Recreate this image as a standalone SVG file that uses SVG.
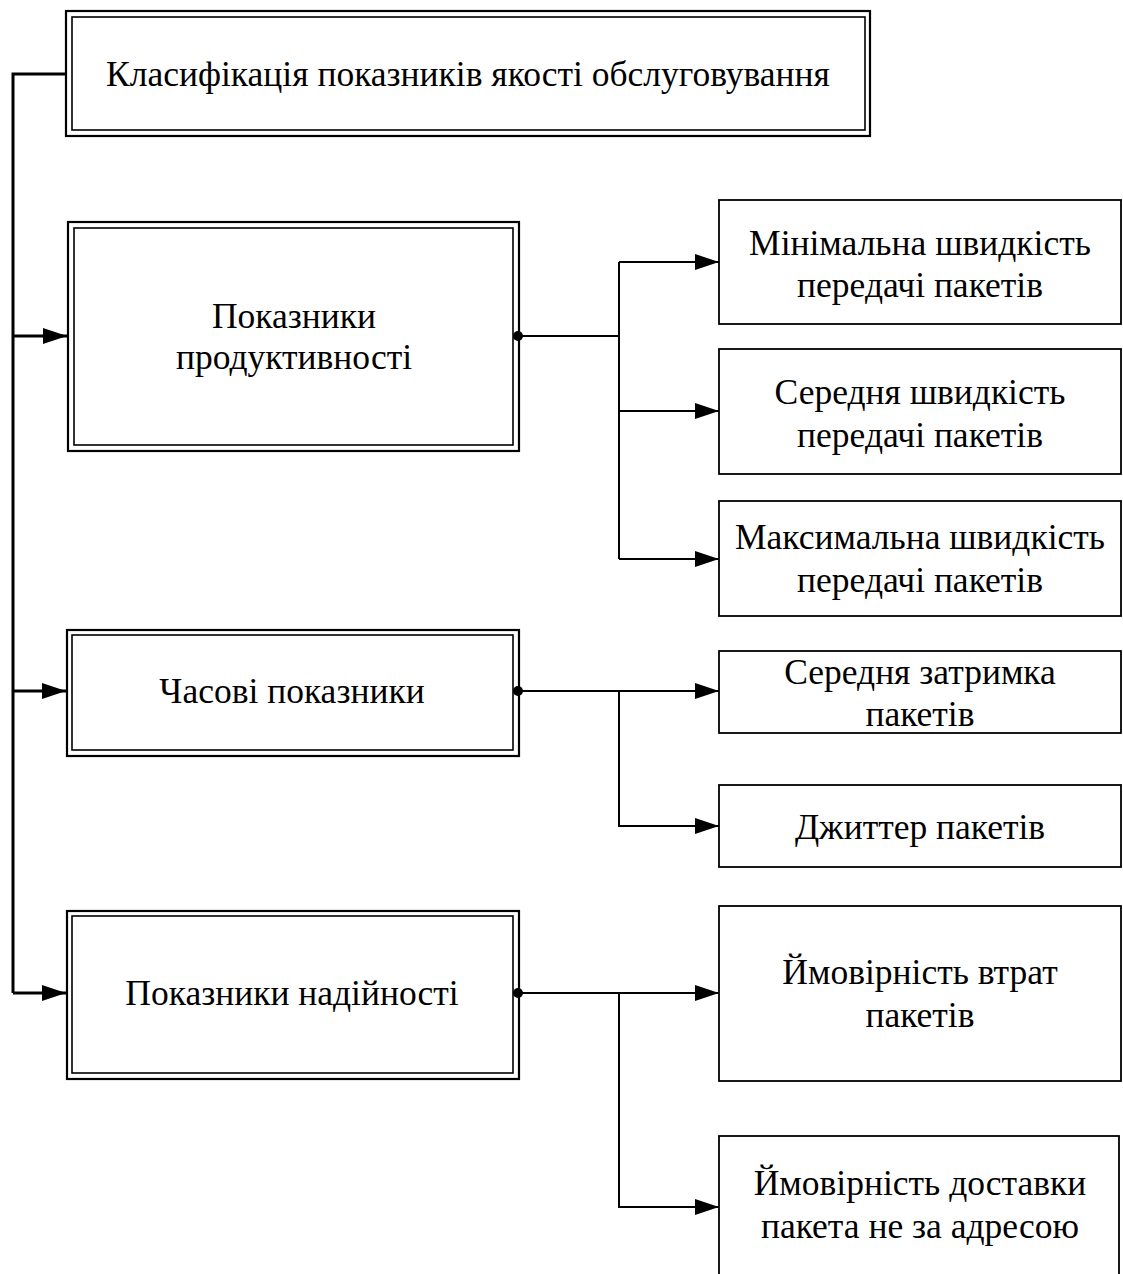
<svg xmlns="http://www.w3.org/2000/svg" width="1123" height="1274" viewBox="0 0 1123 1274">
  <defs>
    <style>
      .outer { fill: none; stroke: #000; stroke-width: 2.2; }
      .inner { fill: none; stroke: #000; stroke-width: 1.6; }
      .box { fill: #fff; stroke: #000; stroke-width: 1.8; }
      .spine { fill: none; stroke: #000; stroke-width: 3; }
      .wire { fill: none; stroke: #000; stroke-width: 2; }
      text { font-family: "Liberation Serif", "Times New Roman", serif; font-size: 35.5px; fill: #000; text-anchor: middle; }
    </style>
    <marker id="arrow" viewBox="0 0 24 16" refX="24" refY="8" markerWidth="24" markerHeight="16" markerUnits="userSpaceOnUse" orient="auto">
      <path d="M0,0 L24,8 L0,16 Z" fill="#000"/>
    </marker>
  </defs>

  <rect width="1123" height="1274" fill="#fff"/>

  <!-- connectors -->
  <g id="connectors">
    <!-- main spine from the title box down to each group -->
    <path class="spine" d="M66,74 H13 V993"/>
    <path class="spine" d="M13,336 H67" marker-end="url(#arrow)"/>
    <path class="spine" d="M13,691 H66" marker-end="url(#arrow)"/>
    <path class="spine" d="M13,993 H66" marker-end="url(#arrow)"/>

    <!-- performance branch -->
    <circle cx="518" cy="336" r="5" fill="#000"/>
    <path class="wire" d="M518,336 H619"/>
    <path class="wire" d="M619,262 V559"/>
    <path class="wire" d="M619,262 H719" marker-end="url(#arrow)"/>
    <path class="wire" d="M619,411 H719" marker-end="url(#arrow)"/>
    <path class="wire" d="M619,559 H719" marker-end="url(#arrow)"/>

    <!-- timing branch -->
    <circle cx="518" cy="691" r="5" fill="#000"/>
    <path class="wire" d="M518,691 H719" marker-end="url(#arrow)"/>
    <path class="wire" d="M619,691 V826 H719" marker-end="url(#arrow)"/>

    <!-- reliability branch -->
    <circle cx="518" cy="993" r="5" fill="#000"/>
    <path class="wire" d="M518,993 H719" marker-end="url(#arrow)"/>
    <path class="wire" d="M619,993 V1207 H719" marker-end="url(#arrow)"/>
  </g>

  <!-- title -->
  <g id="title">
    <rect class="outer" x="66" y="11" width="804" height="125" fill="#fff"/>
    <rect class="inner" x="72" y="17" width="793" height="113"/>
    <text x="468" y="86">Класифікація показників якості обслуговування</text>
  </g>

  <!-- group nodes -->
  <g id="performance">
    <rect class="outer" x="68" y="222" width="451" height="229"/>
    <rect class="inner" x="74" y="228" width="439" height="217"/>
    <text x="294" y="328">Показники</text>
    <text x="294" y="369">продуктивності</text>
  </g>

  <g id="timing">
    <rect class="outer" x="67" y="630" width="452" height="126"/>
    <rect class="inner" x="72" y="635" width="441" height="115"/>
    <text x="292" y="703">Часові показники</text>
  </g>

  <g id="reliability">
    <rect class="outer" x="67" y="911" width="452" height="168"/>
    <rect class="inner" x="72" y="916" width="441" height="157"/>
    <text x="292" y="1005">Показники надійності</text>
  </g>

  <!-- leaf nodes -->
  <g id="min-rate">
    <rect class="box" x="719" y="200" width="402" height="124"/>
    <text x="920" y="255">Мінімальна швидкість</text>
    <text x="920" y="297">передачі пакетів</text>
  </g>

  <g id="avg-rate">
    <rect class="box" x="719" y="349" width="402" height="125"/>
    <text x="920" y="404">Середня швидкість</text>
    <text x="920" y="447">передачі пакетів</text>
  </g>

  <g id="max-rate">
    <rect class="box" x="719" y="501" width="402" height="115"/>
    <text x="920" y="549">Максимальна швидкість</text>
    <text x="920" y="592">передачі пакетів</text>
  </g>

  <g id="avg-delay">
    <rect class="box" x="719" y="651" width="402" height="82"/>
    <text x="920" y="684">Середня затримка</text>
    <text x="920" y="726">пакетів</text>
  </g>

  <g id="jitter">
    <rect class="box" x="719" y="785" width="402" height="82"/>
    <text x="920" y="839">Джиттер пакетів</text>
  </g>

  <g id="loss">
    <rect class="box" x="719" y="906" width="402" height="175"/>
    <text x="920" y="984">Ймовірність втрат</text>
    <text x="920" y="1027">пакетів</text>
  </g>

  <g id="misdelivery">
    <rect class="box" x="719" y="1136" width="400" height="150"/>
    <text x="920" y="1195">Ймовірність доставки</text>
    <text x="920" y="1238">пакета не за адресою</text>
  </g>
</svg>
